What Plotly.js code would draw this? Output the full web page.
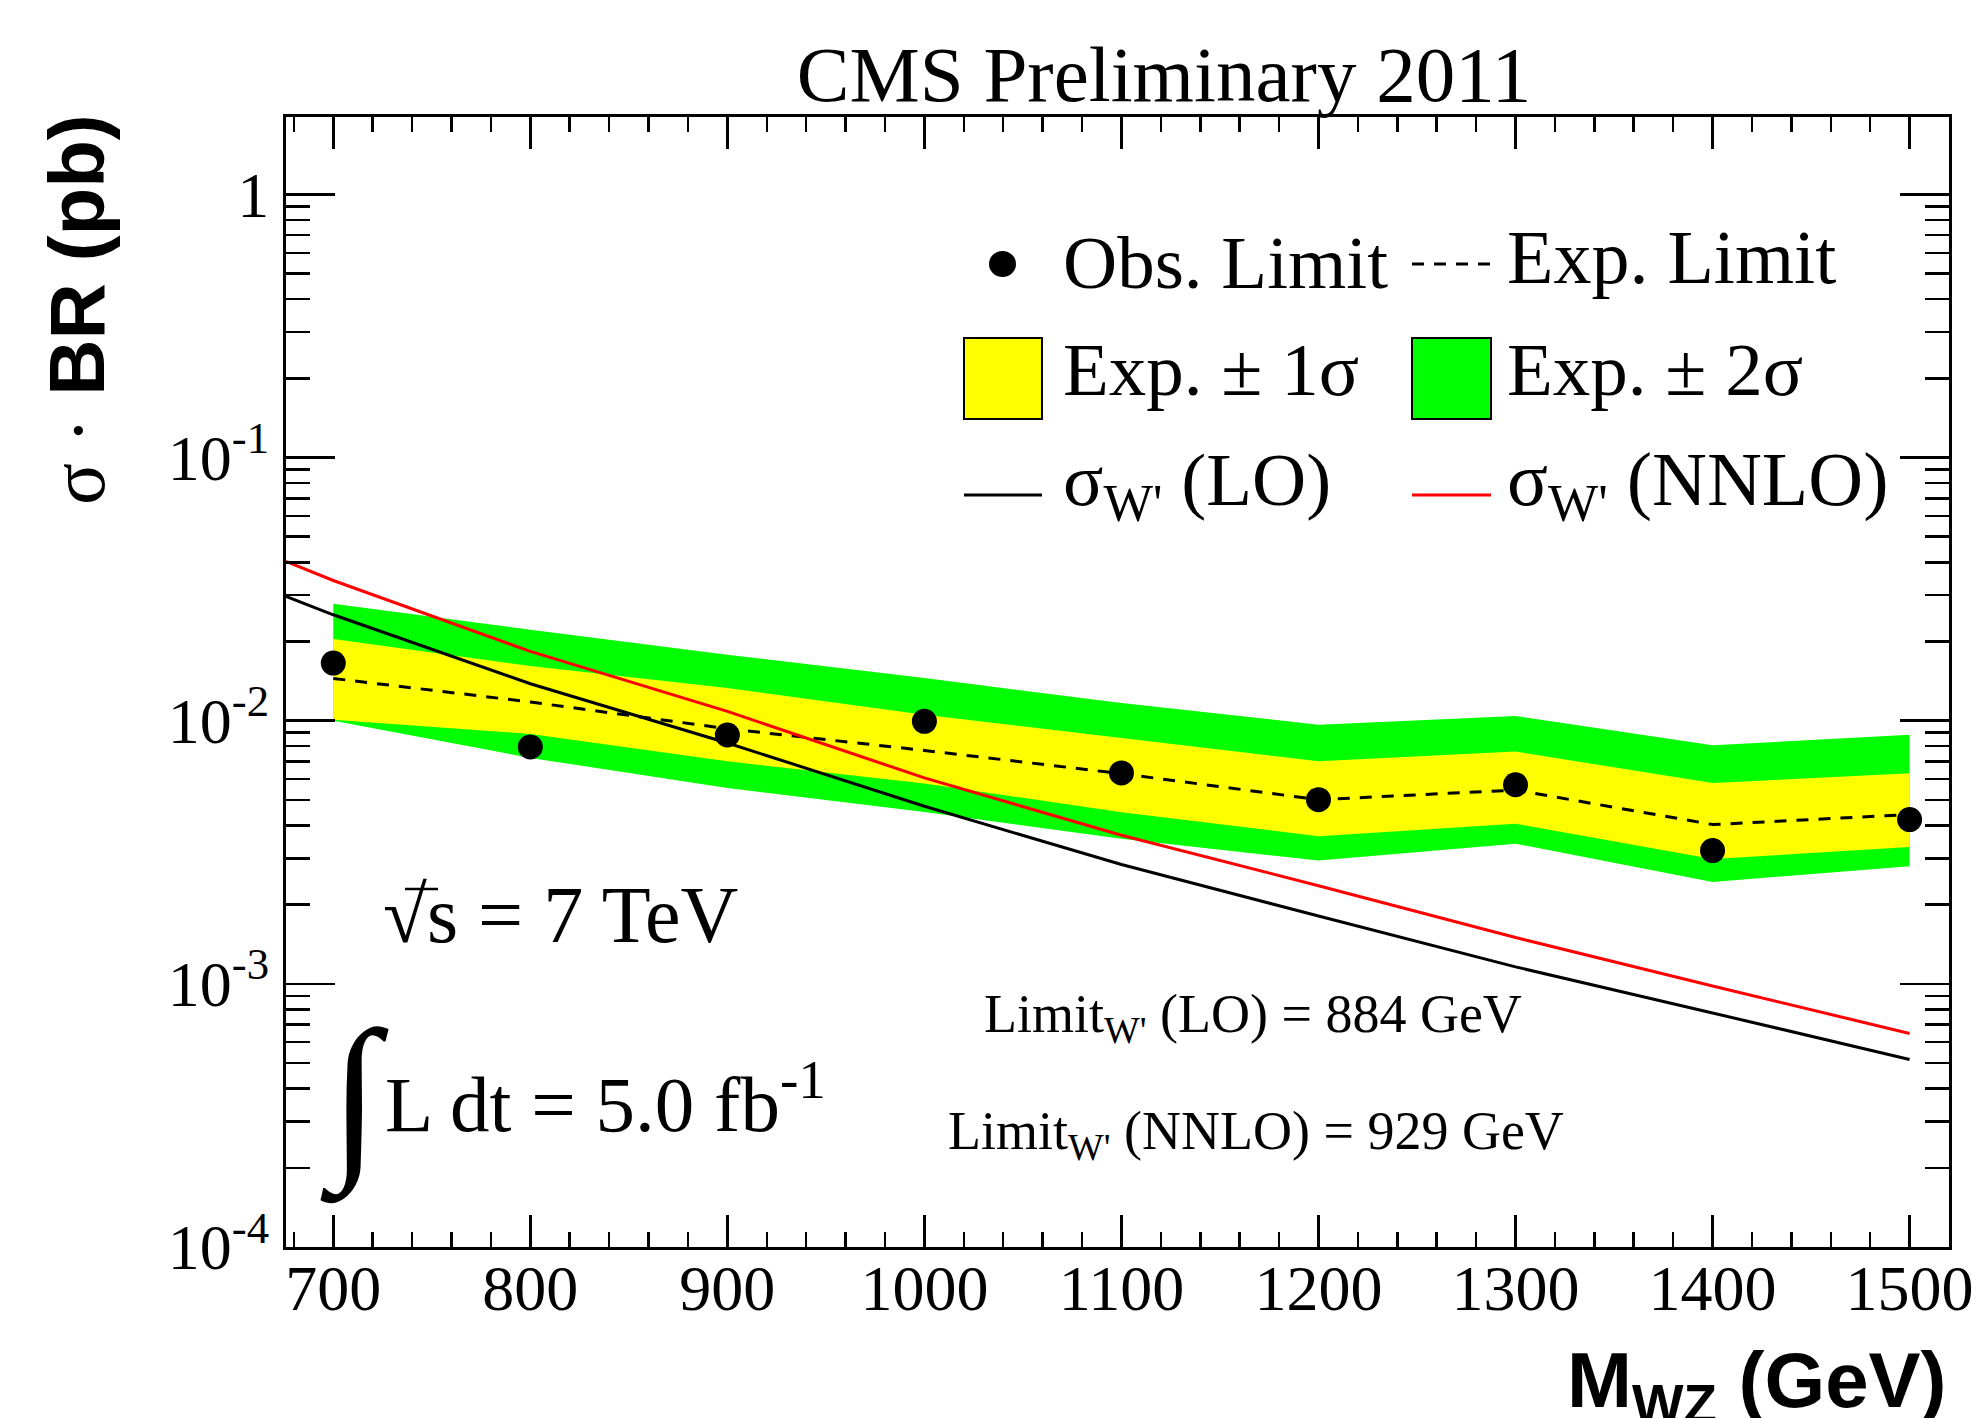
<!DOCTYPE html>
<html>
<head>
<meta charset="utf-8">
<script src="https://cdn.plot.ly/plotly-3.0.1.min.js"></script>
<style>
html,body{margin:0;padding:0;background:#fff;}
#chart{width:1972px;height:1418px;}
</style>
</head>
<body>
<div id="chart"></div>
<script>
// ---- data ----
const mass = [700, 800, 900, 1000, 1100, 1200, 1300, 1400, 1500];
const obsLimit = [0.01656, 0.00795, 0.00882, 0.00994, 0.00633, 0.00501, 0.00571, 0.00321, 0.00421];
const expLimit = [0.01447, 0.01178, 0.00932, 0.00771, 0.00629, 0.00501, 0.00545, 0.00403, 0.00440];
const exp1SigUp = [0.02042, 0.01613, 0.01331, 0.01054, 0.00860, 0.00701, 0.00763, 0.00580, 0.00631];
const exp1SigDown = [0.01009, 0.00890, 0.00701, 0.00577, 0.00449, 0.00364, 0.00406, 0.00298, 0.00331];
const exp2SigUp = [0.02781, 0.02215, 0.01781, 0.01453, 0.01167, 0.00966, 0.01042, 0.00806, 0.00885];
const exp2SigDown = [0.01000, 0.00722, 0.00555, 0.00450, 0.00356, 0.00294, 0.00341, 0.00244, 0.00280];
const theoryMass = [676, 700, 800, 900, 1000, 1100, 1200, 1300, 1400, 1500];
const xsecLO = [0.02965, 0.02526, 0.01382, 0.00823, 0.00473, 0.00284, 0.00181, 0.00116, 0.000775, 0.000516];
const xsecNNLO = [0.0403, 0.0341, 0.01833, 0.01085, 0.00606, 0.00367, 0.00236, 0.00150, 0.000981, 0.000648];
const yTickVals = [1e-4, 1e-3, 1e-2, 1e-1, 1];
const yTickText = ["10<sup>-4</sup>", "10<sup>-3</sup>", "10<sup>-2</sup>", "10<sup>-1</sup>", "1"];

// ---- layout helpers (pixel -> paper) ----
const L = 286, R = 1949, T = 117, B = 1247;
const X = px => (px - L) / (R - L);
const Y = py => (B - py) / (B - T);

const serif = "Liberation Serif";
const sans = "Liberation Sans";

function band(up, down) {
  return {
    x: mass.concat(mass.slice().reverse()),
    y: up.concat(down.slice().reverse())
  };
}
const g = band(exp2SigUp, exp2SigDown);
const yb = band(exp1SigUp, exp1SigDown);

const traces = [
  {x: g.x, y: g.y, type: "scatter", mode: "lines", fill: "toself", fillcolor: "#00ff00",
   line: {width: 0, color: "#00ff00"}, hoverinfo: "skip", showlegend: false},
  {x: yb.x, y: yb.y, type: "scatter", mode: "lines", fill: "toself", fillcolor: "#ffff00",
   line: {width: 0, color: "#ffff00"}, hoverinfo: "skip", showlegend: false},
  {x: mass, y: expLimit, type: "scatter", mode: "lines",
   line: {color: "#000", width: 3, dash: "12px,10px"}, showlegend: false},
  {x: theoryMass, y: xsecLO, type: "scatter", mode: "lines",
   line: {color: "#000", width: 3}, showlegend: false},
  {x: theoryMass, y: xsecNNLO, type: "scatter", mode: "lines",
   line: {color: "#ff0000", width: 3}, showlegend: false},
  {x: mass, y: obsLimit, type: "scatter", mode: "markers",
   marker: {color: "#000", size: 25, symbol: "circle"}, showlegend: false}
];

function ann(text, xpx, ypx, size, opts) {
  return Object.assign({
    text: text, xref: "paper", yref: "paper", x: X(xpx), y: Y(ypx),
    xanchor: "left", yanchor: "middle", showarrow: false,
    font: {family: serif, size: size, color: "#000"}
  }, opts || {});
}

const annotations = [
  // y axis title
  ann('<span style="font-family:\'Liberation Serif\';font-weight:normal">σ ·</span> BR (pb)', 77, 310, 78,
      {xanchor: "center", textangle: -90, font: {family: sans, size: 78, color: "#000", weight: "bold"}}),
  // x axis title
  ann("M<sub>WZ</sub> (GeV)", 1949, 1385, 78,
      {xanchor: "right", font: {family: sans, size: 78, color: "#000", weight: "bold"}}),
  // legend texts
  ann("Obs. Limit", 1061, 263, 75),
  ann("Exp. Limit", 1505, 257, 76),
  ann("Exp. ± 1σ", 1061, 370, 75),
  ann("Exp. ± 2σ", 1505, 370, 75),
  ann("σ<sub>W'</sub> (LO)", 1061, 485, 75),
  ann("σ<sub>W'</sub> (NNLO)", 1505, 485, 76),
  // energy / lumi
  ann("√s = 7 TeV", 381, 915, 80),
  ann("∫", 354, 1099, 180, {xanchor: "center", font: {family: serif, size: 180, color: "#000", weight: "bold"}}),
  ann("L dt = 5.0 fb<sup>-1</sup>", 383, 1098, 79),
  // mass limits
  ann("Limit<sub>W'</sub> (LO) = 884 GeV", 1253, 1017, 54, {xanchor: "center"}),
  ann("Limit<sub>W'</sub> (NNLO) = 929 GeV", 1256, 1134, 54, {xanchor: "center"})
];

const shapes = [
  // vinculum of the square root over "s"
  {type: "line", xref: "paper", yref: "paper", x0: X(405), x1: X(438), y0: Y(889), y1: Y(889),
   line: {color: "#000", width: 2.5}},
  // legend symbols
  {type: "circle", xref: "paper", yref: "paper", x0: X(989), x1: X(1016), y0: Y(251), y1: Y(277),
   fillcolor: "#000", line: {width: 0}},
  {type: "line", xref: "paper", yref: "paper", x0: X(1412), x1: X(1491), y0: Y(264), y1: Y(264),
   line: {color: "#000", width: 3, dash: "12px,10px"}},
  {type: "rect", xref: "paper", yref: "paper", x0: X(964), x1: X(1042), y0: Y(338), y1: Y(419),
   fillcolor: "#ffff00", line: {color: "#000", width: 2}},
  {type: "rect", xref: "paper", yref: "paper", x0: X(1412), x1: X(1491), y0: Y(338), y1: Y(419),
   fillcolor: "#00ff00", line: {color: "#000", width: 2}},
  {type: "line", xref: "paper", yref: "paper", x0: X(964), x1: X(1042), y0: Y(495), y1: Y(495),
   line: {color: "#000", width: 3}},
  {type: "line", xref: "paper", yref: "paper", x0: X(1412), x1: X(1491), y0: Y(495), y1: Y(495),
   line: {color: "#ff0000", width: 3}}
];

const axisCommon = {
  showline: true, linewidth: 3, linecolor: "#000", mirror: "ticks",
  ticks: "inside", tickcolor: "#000", tickwidth: 2.5,
  showgrid: false, zeroline: false,
  tickfont: {family: serif, size: 64, color: "#000"}
};

const layout = {
  width: 1972, height: 1418, autosize: false,
  margin: {l: L, r: 1972 - R, t: T, b: 1418 - B, pad: 0},
  paper_bgcolor: "#fff", plot_bgcolor: "#fff",
  showlegend: false,
  title: {text: "CMS Preliminary 2011", font: {family: serif, size: 79, color: "#000"},
          x: 1164 / 1972, xanchor: "center", xref: "container",
          y: 1 - 73 / 1418, yanchor: "middle", yref: "container"},
  xaxis: Object.assign({}, axisCommon, {
    range: [676, 1520], dtick: 100, tick0: 0, ticklen: 32, ticklabelstandoff: -17,
    ticklabeloverflow: "allow",
    minor: {ticks: "inside", ticklen: 15, tickwidth: 2.5, tickcolor: "#000", dtick: 20}
  }),
  yaxis: Object.assign({}, axisCommon, {
    type: "log", range: [-4, 0.294], tickmode: "array", tickvals: yTickVals, ticktext: yTickText,
    ticklen: 49, ticklabelstandoff: 1,
    minor: {ticks: "inside", ticklen: 24, tickwidth: 2.5, tickcolor: "#000", dtick: "D1"}
  }),
  annotations: annotations,
  shapes: shapes
};

Plotly.newPlot("chart", traces, layout, {displayModeBar: false, staticPlot: true});
</script>
</body>
</html>
